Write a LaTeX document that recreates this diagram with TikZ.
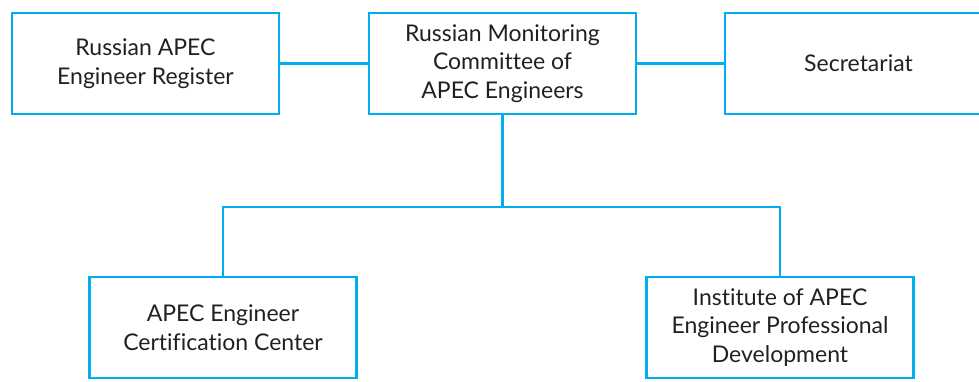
\documentclass[tikz,border=0pt]{standalone}
\usepackage{fontspec}
\setmainfont{Lato}[Ligatures=NoCommon]
\usetikzlibrary{positioning}
\definecolor{orgblue}{RGB}{0,174,239}
\definecolor{orgtext}{RGB}{35,31,32}
\tikzstyle{unit} = [rectangle, draw=orgblue, line width=2.6pt, text=orgtext, align=center, minimum width=267pt, minimum height=101pt, inner sep=0pt, outer sep=0pt, font=\fontsize{23}{28.5}\selectfont]
\tikzstyle{link} = [draw=orgblue, line width=2.6pt]

\begin{document}
\begin{tikzpicture}[x=1pt, y=-1pt]
			\clip (0,0) rectangle (979,381);
			% Nodes
			\node (register) [unit] at (145.5,63.5) {Russian APEC\\Engineer Register};
			\node (committee) [unit, right=90pt of register] {Russian Monitoring\\Committee of\\APEC Engineers};
			\node (secretariat) [unit, right=89pt of committee] {Secretariat};
			\node (certcenter) [unit, below=163pt of committee, xshift=-279.5pt] {APEC Engineer\\Certification Center};
			\node (institute) [unit, below=163pt of committee, xshift=277.5pt] {Institute of APEC\\Engineer Professional\\Development};
			\coordinate [below=93pt of committee] (split);
			
			% Lines
			\draw [link] (register) -- (committee);
			\draw [link] (committee) -- (secretariat);
			\draw [link] (committee) -- (split);
			\draw [link] (split) -| (certcenter);
			\draw [link] (split) -| (institute);
		\end{tikzpicture}
\end{document}
